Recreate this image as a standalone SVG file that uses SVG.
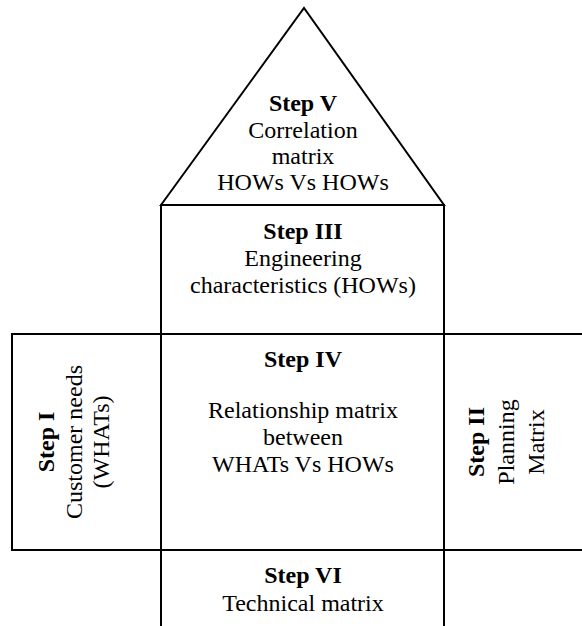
<svg xmlns="http://www.w3.org/2000/svg" width="582" height="626" viewBox="0 0 582 626">
<style>
.shape{fill:#fff;stroke:#000;stroke-width:2}
text{font-family:"Liberation Serif","Times New Roman",serif;font-size:24px;fill:#000;text-anchor:middle}
.b{font-weight:bold}
</style>
<rect width="582" height="626" fill="#fff"/>
<g id="step5">
<polygon class="shape" points="161,205 304,8 444,205"/>
<text x="303" y="111" class="b">Step V</text>
<text x="303" y="138">Correlation</text>
<text x="303" y="164">matrix</text>
<text x="303" y="190">HOWs Vs HOWs</text>
</g>
<g id="step3">
<rect class="shape" x="161" y="205" width="283" height="129"/>
<text x="303" y="239" class="b">Step III</text>
<text x="303" y="266">Engineering</text>
<text x="303" y="293">characteristics (HOWs)</text>
</g>
<g id="step1">
<rect class="shape" x="12" y="334" width="149" height="216"/>
<g transform="translate(0,442) rotate(-90)">
<text x="0" y="54" class="b">Step I</text>
<text x="0" y="82">Customer needs</text>
<text x="0" y="109">(WHATs)</text>
</g>
</g>
<g id="step2">
<rect class="shape" x="444" y="334" width="145" height="216"/>
<g transform="translate(0,442) rotate(-90)">
<text x="0" y="484" class="b">Step II</text>
<text x="0" y="514">Planning</text>
<text x="0" y="544">Matrix</text>
</g>
</g>
<g id="step4">
<rect class="shape" x="161" y="334" width="283" height="216"/>
<text x="303" y="367" class="b">Step IV</text>
<text x="303" y="418">Relationship matrix</text>
<text x="303" y="445">between</text>
<text x="303" y="472">WHATs Vs HOWs</text>
</g>
<g id="step6">
<rect class="shape" x="161" y="550" width="283" height="90"/>
<text x="303" y="583" class="b">Step VI</text>
<text x="303" y="611">Technical matrix</text>
</g>
<g id="connectors"></g>
</svg>
